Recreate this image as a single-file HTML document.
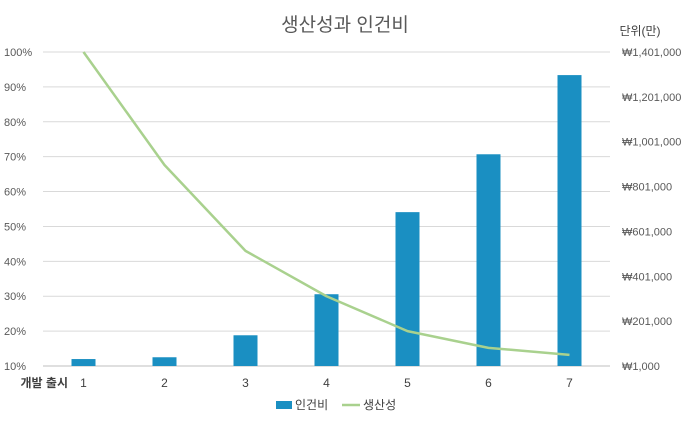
<!DOCTYPE html>
<html><head><meta charset="utf-8">
<style>
body{margin:0;background:#fff;}
svg text{font-family:"Liberation Sans","Noto Sans CJK KR",sans-serif;}
</style></head>
<body>
<svg width="690" height="426" viewBox="0 0 690 426" id="chart">
<text x="345" y="31" text-anchor="middle" font-size="19" fill="#595959">생산성과 인건비</text>
<text x="640" y="35" text-anchor="middle" font-size="12" fill="#404040">단위(만)</text>
<text x="68" y="387" text-anchor="end" font-size="12" font-weight="bold" fill="#404040">개발 출시</text>
<g id="grid"></g><g id="bars"></g><g id="line"></g><g id="labels"></g>
<g>
<rect x="276" y="401" width="16" height="8" fill="#1a8fc2"/>
<text x="295" y="409" font-size="12" fill="#404040">인건비</text>
<line x1="342" y1="405" x2="360" y2="405" stroke="#a9d18e" stroke-width="2.5"/>
<text x="363" y="409" font-size="12" fill="#404040">생산성</text>
</g>
</svg>
<script>
const categories=["1","2","3","4","5","6","7"];
const laborCost=[32000,40000,138000,321000,687000,945000,1298000];
const productivity=[100,67.6,43,30,20,15.2,13.2];
const leftTicks=[10,20,30,40,50,60,70,80,90,100];
const rightTicks=[1000,201000,401000,601000,801000,1001000,1201000,1401000];
const NS="http://www.w3.org/2000/svg";
const X0=43,X1=610,YT=52,YB=366;
const band=(X1-X0)/categories.length;
const xc=i=>X0+band*(i+0.5);
const yL=v=>YB-(v-10)/90*(YB-YT);
const yR=v=>YB-(v-1000)/1400000*(YB-YT);
function mk(t,a,p){const e=document.createElementNS(NS,t);for(const k in a)e.setAttribute(k,a[k]);p.appendChild(e);return e;}
const grid=document.getElementById('grid'),labels=document.getElementById('labels');
leftTicks.forEach(v=>{
  const l=mk('line',{x1:X0,x2:X1,y1:yL(v),y2:yL(v),stroke:v===10?'#bfbfbf':'#d9d9d9','stroke-width':1},grid);
  
  
  const t=mk('text',{x:4,y:yL(v)+4,'font-size':11,fill:'#595959'},labels);
  t.textContent=v+'%';
  
  
});
rightTicks.forEach(v=>{
  const t=mk('text',{x:622,y:yR(v)+4,'font-size':11,fill:'#595959'},labels);
  t.textContent='₩'+v.toLocaleString('en-US');
  
  
});
categories.forEach((c,i)=>{
  const t=mk('text',{x:xc(i),y:387,'text-anchor':'middle','font-size':12,fill:'#404040'},labels);
  t.textContent=c;
  
  
});
const bars=document.getElementById('bars');
laborCost.forEach((v,i)=>{
  const y=yR(v);
  const r=mk('rect',{x:xc(i)-12,y:y,width:24,height:YB-y,fill:'#1a8fc2'},bars);
  
  
});
const pts=productivity.map((v,i)=>xc(i)+','+yL(v)).join(' ');
const pl=mk('polyline',{points:pts,fill:'none',stroke:'#a9d18e','stroke-width':2.5,'stroke-linejoin':'round'},document.getElementById('line'));


</script>
</body></html>
